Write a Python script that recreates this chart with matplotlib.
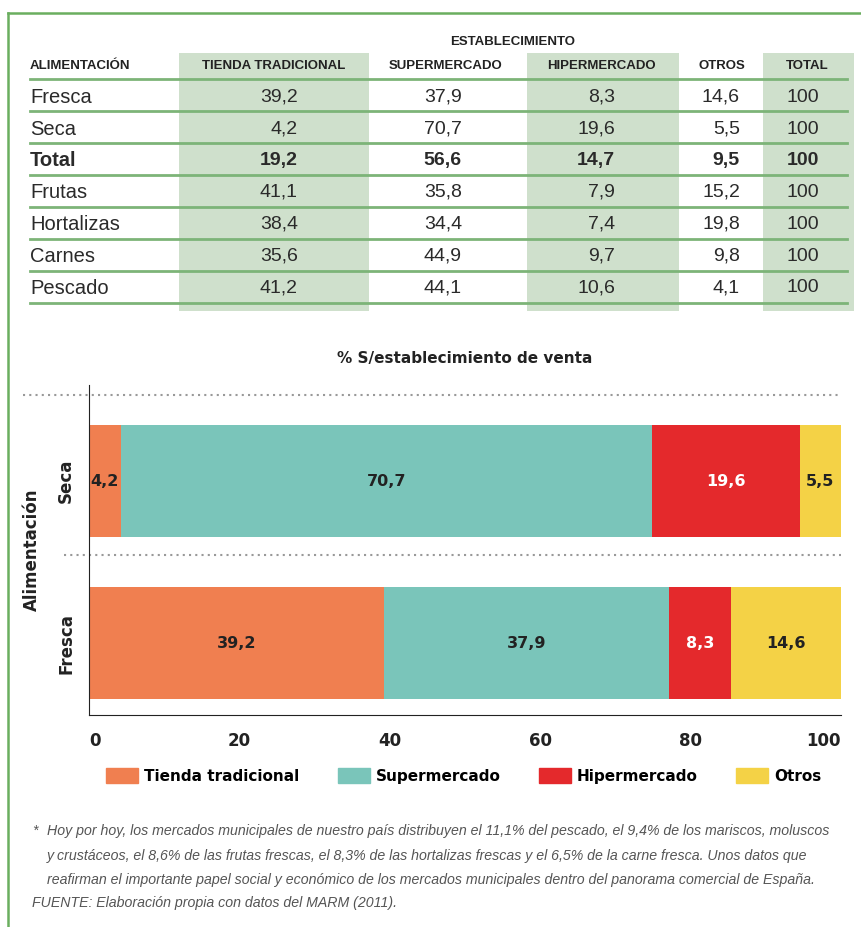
import numpy as np
import matplotlib.pyplot as plt
from matplotlib.patches import Rectangle, Patch

# table data
row_names = ['Fresca', 'Seca', 'Total', 'Frutas', 'Hortalizas', 'Carnes', 'Pescado']
col_names = ['TIENDA TRADICIONAL', 'SUPERMERCADO', 'HIPERMERCADO', 'OTROS', 'TOTAL']
tienda = ['39,2', '4,2', '19,2', '41,1', '38,4', '35,6', '41,2']
super_ = ['37,9', '70,7', '56,6', '35,8', '34,4', '44,9', '44,1']
hiper = ['8,3', '19,6', '14,7', '7,9', '7,4', '9,7', '10,6']
otros = ['14,6', '5,5', '9,5', '15,2', '19,8', '9,8', '4,1']
total = ['100'] * 7

# chart data
categories = ['Fresca', 'Seca']
series = ['Tienda tradicional', 'Supermercado', 'Hipermercado', 'Otros']
values = {
    'Tienda tradicional': [39.2, 4.2],
    'Supermercado': [37.9, 70.7],
    'Hipermercado': [8.3, 19.6],
    'Otros': [14.6, 5.5],
}
colors = ['#F07F50', '#7AC5BA', '#E4292C', '#F4D246']
label_colors = ['#222222', '#222222', 'white', '#222222']

tfont = ['Liberation Sans', 'DejaVu Sans']
cfont = ['DejaVu Sans']
green = '#7DB478'
shade = '#CFE0CC'

fig = plt.figure(figsize=(8.62, 9.27), dpi=100)

# background axes in pixel coordinates
bg = fig.add_axes([0, 0, 1, 1])
bg.set_xlim(0, 862)
bg.set_ylim(927, 0)
bg.axis('off')

bg.plot([8, 8], [13, 927], color='#6AAE5F', lw=1.8)
bg.plot([8, 862], [13, 13], color='#6AAE5F', lw=1.8)

# shaded columns
for x0, x1 in [(179, 369), (527, 679), (763, 854)]:
    bg.add_patch(Rectangle((x0, 53), x1 - x0, 311 - 53, color=shade, lw=0, zorder=0))

line_y = [79, 111, 143, 175, 207, 239, 271, 303]
for y in line_y:
    bg.plot([30, 847], [y, y], color=green, lw=2, zorder=1)

bg.text(513, 42, 'ESTABLECIMIENTO', ha='center', va='center', fontsize=9.5,
        fontweight='bold', family=tfont, color='#222222')
bg.text(30, 66, 'ALIMENTACIÓN', ha='left', va='center', fontsize=9.5,
        fontweight='bold', family=tfont, color='#222222')
head_x = [274, 446, 601, 722, 807]
for x, name in zip(head_x, col_names):
    bg.text(x, 66, name, ha='center', va='center', fontsize=9.5,
            fontweight='bold', family=tfont, color='#222222')

row_y = [97, 129, 160, 192, 224, 256, 288]
val_x = [298, 462, 615, 740, 819]
for i, name in enumerate(row_names):
    w = 'bold' if name == 'Total' else 'normal'
    bg.text(30, row_y[i], name, ha='left', va='center', fontsize=14.5,
            fontweight=w, family=tfont, color='#2a2a2a')
    for x, col in zip(val_x, [tienda, super_, hiper, otros, total]):
        bg.text(x, row_y[i], col[i], ha='right', va='center', fontsize=14,
                fontweight=w, family=tfont, color='#2a2a2a')

# chart
ax = fig.add_axes([89 / 862, 1 - 715 / 927, 752 / 862, 330 / 927])
y = np.arange(len(categories))
left = np.zeros(len(categories))
for s, c, lc in zip(series, colors, label_colors):
    v = np.array(values[s])
    ax.barh(y, v, left=left, height=0.69, color=c, label=s)
    for yi, li, vi in zip(y, left, v):
        ax.text(li + vi / 2, yi, f'{vi:.1f}'.replace('.', ','), ha='center',
                va='center', fontsize=11.5, fontweight='bold', color=lc, family=cfont)
    left += v

ax.set_xlim(0, 100)
ax.set_ylim(-0.444, 1.593)
ax.spines['top'].set_visible(False)
ax.spines['right'].set_visible(False)
ax.spines['left'].set_color('#222222')
ax.spines['bottom'].set_color('#222222')
ax.set_xticks([0, 20, 40, 60, 80, 100])
ax.tick_params(axis='x', length=0, pad=12, labelsize=12)
ax.tick_params(axis='y', length=0, pad=10)
xlabs = ax.get_xticklabels()
for lab in xlabs:
    lab.set_fontweight('bold')
    lab.set_color('#222222')
xlabs[0].set_ha('left')
xlabs[-1].set_ha('right')
ax.set_yticks(y)
ax.set_yticklabels(categories, rotation=90, va='center', fontsize=12,
                   fontweight='bold', color='#222222')
ax.set_ylabel('Alimentación', fontsize=12, fontweight='bold', color='#222222', labelpad=12)

ax.plot([-8.8, 100], [1.53, 1.53], ls=(0, (1, 2)), color='#999999', lw=1.5, clip_on=False)
ax.plot([-3.3, 100], [0.543, 0.543], ls=(0, (1, 2)), color='#999999', lw=1.5, clip_on=False)

ax.set_title('% S/establecimiento de venta', fontsize=11, fontweight='bold',
             color='#222222', pad=16)

handles = [Patch(color=c) for c in colors]
fig.legend(handles, series, loc='center', bbox_to_anchor=(0.538, 1 - 776 / 927), ncol=4,
           frameon=False, handlelength=2.1, handleheight=1.05, handletextpad=0.4,
           columnspacing=2.5, prop={'weight': 'bold', 'size': 11})

notes = [
    (32, 831, '*'),
    (47, 831, 'Hoy por hoy, los mercados municipales de nuestro país distribuyen el 11,1% del pescado, el 9,4% de los mariscos, moluscos'),
    (47, 856, 'y crustáceos, el 8,6% de las frutas frescas, el 8,3% de las hortalizas frescas y el 6,5% de la carne fresca. Unos datos que'),
    (47, 880, 'reafirman el importante papel social y económico de los mercados municipales dentro del panorama comercial de España.'),
    (32, 903, 'FUENTE: Elaboración propia con datos del MARM (2011).'),
]
for x, yy, t in notes:
    bg.text(x, yy, t, ha='left', va='center', fontsize=10.2, style='italic',
            family=tfont, color='#555555')

fig.savefig('out.png', dpi=100)
